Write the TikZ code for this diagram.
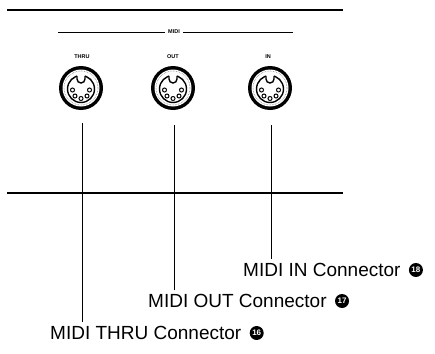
\documentclass[tikz,border=0pt]{standalone}
\usepackage{fontspec}
\setmainfont{Liberation Sans}
\usetikzlibrary{positioning}
\tikzset{
  din/.pic={
    \fill[black] (0,0) circle (22);
    \fill[white] (0,0) circle (18.5);
    \draw[line width=0.6, gray, densely dotted] (0,0) circle (17);
    \draw[line width=1.4] (0,1) circle (13.5);
    \fill[white] (-4,-14) rectangle (4,-8);
    \draw[line width=1.4] (-4,-12.2) -- (-4,-9) arc[start angle=180, end angle=0, radius=4] -- (4,-12.2);
    \foreach \a in {0,45,90,135,180}
      \draw[line width=1] ([shift={(0,2)}]\a:8.5) circle (2);
  },
  conlabel/.style={font=\fontsize{5.5}{5.5}\selectfont\bfseries, inner sep=0pt},
  biglabel/.style={font=\fontsize{19}{19}\selectfont, inner sep=0pt, anchor=west},
  numdot/.style={circle, fill=black, text=white, inner sep=0pt, minimum size=14pt,
    font=\fontsize{8}{8}\selectfont\bfseries},
  leader/.style={line width=0.9},
}
\begin{document}
\begin{tikzpicture}[x=1pt,y=-1pt]
\useasboundingbox (0,0) rectangle (435,353);
% top rule
\coordinate (tl) at (7,10);
\coordinate (tr) at (343,10);
\draw[line width=2] (tl) -- (tr);
% MIDI rule
\coordinate (ml) at (58,32);
\coordinate (mr) at (293,32);
\draw[line width=0.8] (ml) -- (mr);
\node[conlabel, fill=white, inner xsep=3pt, inner ysep=1pt] (midi) at (174,32) {MIDI};
% connector labels
\node[conlabel] (thru) at (82,57) {THRU};
\node[conlabel] (out) at (173,57) {OUT};
\node[conlabel] (in) at (268,57) {IN};
% connectors
\pic at (81,88) {din};
\pic at (173,88) {din};
\pic at (270,88) {din};
% horizontal rule
\coordinate (hl) at (7,193);
\coordinate (hr) at (343,193);
\draw[line width=1.2] (hl) -- (hr);
% labels
\node[biglabel] (inlab) at (243,270) {MIDI IN Connector};
\node[numdot, right=8pt of inlab] (n18) {18};
\node[biglabel] (outlab) at (148,301) {MIDI OUT Connector};
\node[numdot, right=8pt of outlab] (n17) {17};
\node[biglabel] (thrulab) at (50,333) {MIDI THRU Connector};
\node[numdot, right=8pt of thrulab] (n16) {16};
% leaders
\coordinate (lt) at (82,123);
\coordinate (lo) at (174,125);
\coordinate (li) at (271,125);
\draw[leader] (lt) -- ([yshift=4pt]lt |- thrulab.north);
\draw[leader] (lo) -- ([yshift=4pt]lo |- outlab.north);
\draw[leader] (li) -- ([yshift=4pt]li |- inlab.north);
\end{tikzpicture}
\end{document}
